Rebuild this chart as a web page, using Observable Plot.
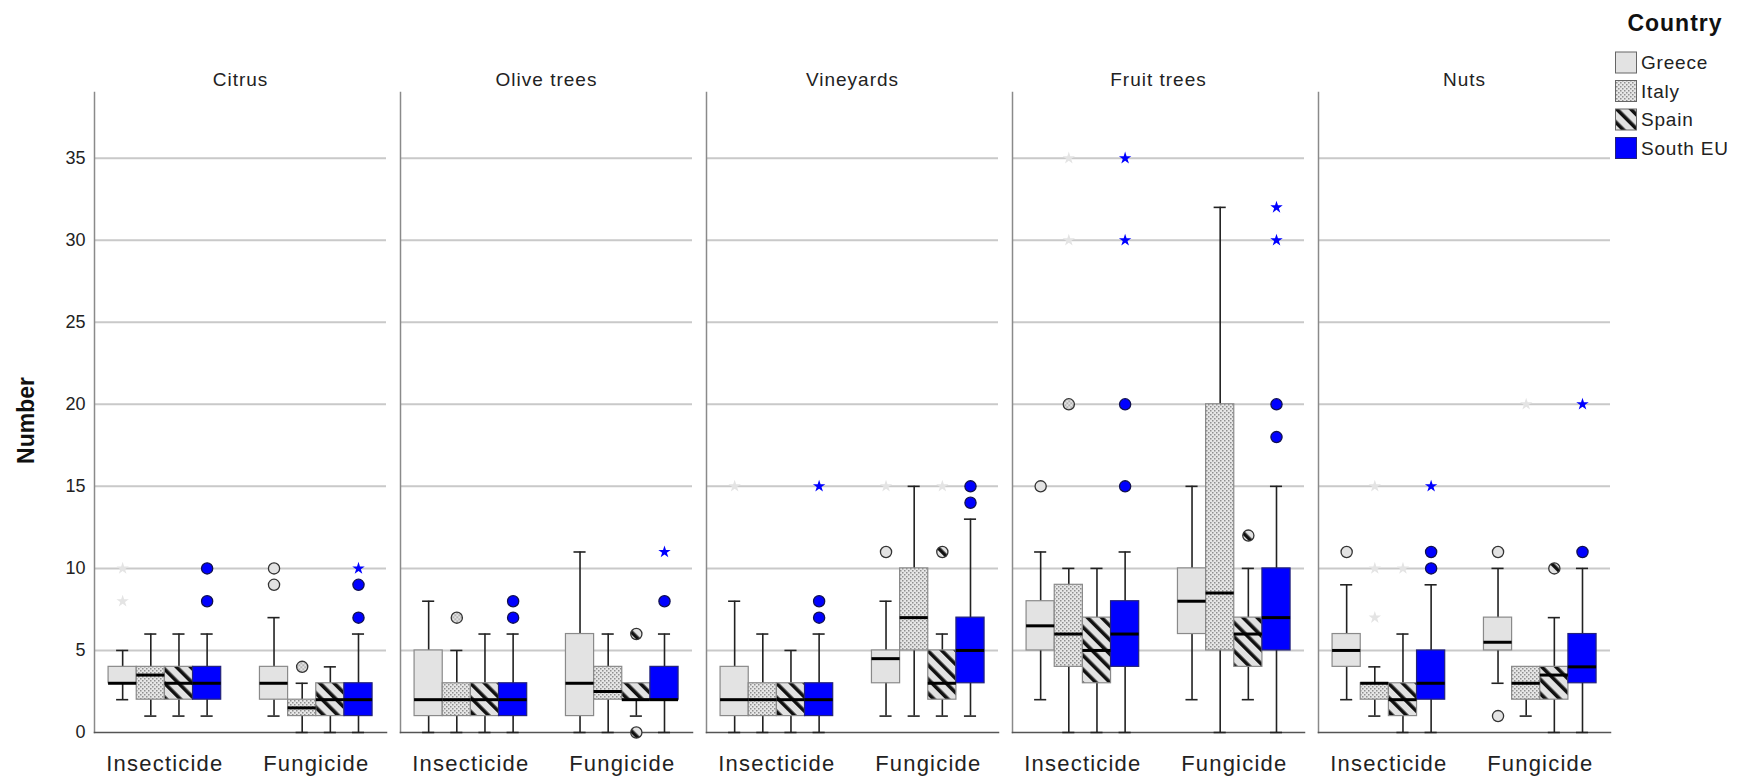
<!DOCTYPE html>
<html><head><meta charset="utf-8">
<script src="https://cdn.jsdelivr.net/npm/d3@7"></script>
<script src="https://cdn.jsdelivr.net/npm/@observablehq/plot@0.6"></script>
<style>
html,body{margin:0;padding:0;background:#fff;}
#wrap{position:relative;width:1744px;height:776px;font-family:"Liberation Sans",Arial,sans-serif;overflow:hidden;}
#legend{position:absolute;left:1590px;top:0;}
</style></head><body>
<svg width="0" height="0" style="position:absolute;left:0;top:0">
  <defs>
    <pattern id="pat-italy" width="4" height="4" patternUnits="userSpaceOnUse">
      <rect width="4" height="4" fill="#e6e6e6"/>
      <rect x="0" y="0" width="1.5" height="1.5" fill="#8f8f8f"/>
      <rect x="2" y="2" width="1.5" height="1.5" fill="#8f8f8f"/>
    </pattern>
    <pattern id="pat-spain" width="10" height="10" patternUnits="userSpaceOnUse" patternTransform="rotate(-45)">
      <rect width="10" height="10" fill="#e2e2e2"/>
      <rect width="3.6" height="10" fill="#111"/>
    </pattern>
  </defs>
</svg>
<div id="wrap"><div id="chart"></div><svg id="legend" width="154" height="170"></svg></div>
<script>
const crops = ["Citrus", "Olive trees", "Vineyards", "Fruit trees", "Nuts"];
const treatments = ["Insecticide", "Fungicide"];
const countries = ["Greece", "Italy", "Spain", "South EU"];

// Per crop: Insecticide (Greece, Italy, Spain, South EU), then Fungicide (Greece, Italy, Spain, South EU)
const whiskerLow = [
  [2, 1, 1, 1,   1, 0, 0, 0],
  [0, 0, 0, 0,   0, 0, 1, 0],
  [0, 0, 0, 0,   1, 1, 1, 1],
  [2, 0, 0, 0,   2, 0, 2, 0],
  [2, 1, 0, 0,   3, 1, 0, 0]
];
const quartile1 = [
  [3, 2, 2, 2,   2, 1, 1, 1],
  [1, 1, 1, 1,   1, 2, 2, 2],
  [1, 1, 1, 1,   3, 5, 2, 3],
  [5, 4, 3, 4,   6, 5, 4, 5],
  [4, 2, 1, 2,   5, 2, 2, 3]
];
const medians = [
  [3, 3.5, 3, 3,   3, 1.5, 2, 2],
  [2, 2, 2, 2,     3, 2.5, 2, 2],
  [2, 2, 2, 2,     4.5, 7, 3, 5],
  [6.5, 6, 5, 6,   8, 8.5, 6, 7],
  [5, 3, 2, 3,     5.5, 3, 3.5, 4]
];
const quartile3 = [
  [4, 4, 4, 4,   4, 2, 3, 3],
  [5, 3, 3, 3,   6, 4, 3, 4],
  [4, 3, 3, 3,   5, 10, 5, 7],
  [8, 9, 7, 8,   10, 20, 7, 10],
  [6, 3, 3, 5,   7, 4, 4, 6]
];
const whiskerHigh = [
  [5, 6, 6, 6,     7, 3, 4, 6],
  [8, 5, 6, 6,     11, 6, 3, 6],
  [8, 6, 5, 6,     8, 15, 6, 13],
  [11, 10, 10, 11, 15, 32, 10, 15],
  [9, 4, 6, 9,     10, 4, 7, 10]
];
// outliers (circles): [crop, treatment, country, value]
const outliers = [
  ["Citrus", "Insecticide", "South EU", 10], ["Citrus", "Insecticide", "South EU", 8],
  ["Citrus", "Fungicide", "Greece", 10], ["Citrus", "Fungicide", "Greece", 9],
  ["Citrus", "Fungicide", "Italy", 4],
  ["Citrus", "Fungicide", "South EU", 9], ["Citrus", "Fungicide", "South EU", 7],
  ["Olive trees", "Insecticide", "Italy", 7],
  ["Olive trees", "Insecticide", "South EU", 8], ["Olive trees", "Insecticide", "South EU", 7],
  ["Olive trees", "Fungicide", "Spain", 6], ["Olive trees", "Fungicide", "Spain", 0],
  ["Olive trees", "Fungicide", "South EU", 8],
  ["Vineyards", "Insecticide", "South EU", 8], ["Vineyards", "Insecticide", "South EU", 7],
  ["Vineyards", "Fungicide", "Greece", 11], ["Vineyards", "Fungicide", "Spain", 11],
  ["Vineyards", "Fungicide", "South EU", 15], ["Vineyards", "Fungicide", "South EU", 14],
  ["Fruit trees", "Insecticide", "Greece", 15], ["Fruit trees", "Insecticide", "Italy", 20],
  ["Fruit trees", "Insecticide", "South EU", 20], ["Fruit trees", "Insecticide", "South EU", 15],
  ["Fruit trees", "Fungicide", "Spain", 12],
  ["Fruit trees", "Fungicide", "South EU", 20], ["Fruit trees", "Fungicide", "South EU", 18],
  ["Nuts", "Insecticide", "Greece", 11],
  ["Nuts", "Insecticide", "South EU", 11], ["Nuts", "Insecticide", "South EU", 10],
  ["Nuts", "Fungicide", "Greece", 11], ["Nuts", "Fungicide", "Greece", 1],
  ["Nuts", "Fungicide", "Spain", 10], ["Nuts", "Fungicide", "South EU", 11]
];
// extreme values (stars): [crop, treatment, country, value]
const extremes = [
  ["Citrus", "Insecticide", "Greece", 10], ["Citrus", "Insecticide", "Greece", 8],
  ["Citrus", "Fungicide", "South EU", 10],
  ["Olive trees", "Fungicide", "South EU", 11],
  ["Vineyards", "Insecticide", "Greece", 15], ["Vineyards", "Insecticide", "South EU", 15],
  ["Vineyards", "Fungicide", "Greece", 15], ["Vineyards", "Fungicide", "Spain", 15],
  ["Fruit trees", "Insecticide", "Italy", 35], ["Fruit trees", "Insecticide", "Italy", 30],
  ["Fruit trees", "Insecticide", "South EU", 35], ["Fruit trees", "Insecticide", "South EU", 30],
  ["Fruit trees", "Fungicide", "South EU", 32], ["Fruit trees", "Fungicide", "South EU", 30],
  ["Nuts", "Insecticide", "Italy", 15], ["Nuts", "Insecticide", "Italy", 10], ["Nuts", "Insecticide", "Italy", 7],
  ["Nuts", "Insecticide", "Spain", 10], ["Nuts", "Insecticide", "South EU", 15],
  ["Nuts", "Fungicide", "Italy", 20], ["Nuts", "Fungicide", "South EU", 20]
];
const yTicks = [0, 5, 10, 15, 20, 25, 30, 35];

// ---- styles ----
const boxFill = {"Greece": "#e3e3e3", "Italy": "url(#pat-italy)", "Spain": "url(#pat-spain)", "South EU": "#0000ff"};
const boxStroke = {"Greece": "#8a8a8a", "Italy": "#8a8a8a", "Spain": "#8a8a8a", "South EU": "#23237a"};
const dotFill = {"Greece": "#e3e3e3", "Italy": "url(#pat-italy)", "Spain": "url(#pat-spain)", "South EU": "#0000ff"};
const dotStroke = {"Greece": "#333", "Italy": "#333", "Spain": "#333", "South EU": "#101050"};
const starFill = {"Greece": "#e4e4e4", "Italy": "#e4e4e4", "Spain": "#e4e4e4", "South EU": "#0000ff"};

// ---- tables ----
const rows = [];
crops.forEach((crop, ci) => treatments.forEach((treatment, ti) => countries.forEach((country, k) => {
  const j = ti * 4 + k;
  rows.push({crop, treatment, country,
    lo: whiskerLow[ci][j], q1: quartile1[ci][j], med: medians[ci][j],
    q3: quartile3[ci][j], hi: whiskerHigh[ci][j]});
})));
const toObj = ([crop, treatment, country, value]) => ({crop, treatment, country, value});
const outlierRows = outliers.map(toObj);
const extremeRows = extremes.map(toObj);

const BW = 0.186;   // box width in x units
const CAP = 0.08;   // whisker cap width
const pos = d => treatments.indexOf(d.treatment) + (countries.indexOf(d.country) - 1.5) * BW;

const marks = [
  Plot.ruleY(yTicks.filter(v => v > 0), {stroke: "#c9c9c9", strokeWidth: 2}),
  Plot.frame({anchor: "left", stroke: "#8a8a8a", strokeWidth: 1.5}),
  Plot.frame({anchor: "bottom", stroke: "#555", strokeWidth: 1.5}),
  Plot.axisY({ticks: yTicks, tickSize: 0, tickPadding: 9, fontSize: 18, label: "Number",
    labelAnchor: "center", labelArrow: "none", labelOffset: 77}),
  Plot.axisX({ticks: [0, 1], tickFormat: i => treatments[i], tickSize: 0, tickPadding: 23, fontSize: 22, label: null}),
  Plot.text(crops, {fx: d => d, text: d => d, frameAnchor: "top", dy: -20, fontSize: 19}),
  Plot.ruleX(rows, {fx: "crop", x: pos, y1: "lo", y2: "hi", stroke: "#222", strokeWidth: 1.6}),
  Plot.ruleY(rows.filter(d => d.lo < d.q1), {fx: "crop", y: "lo", x1: d => pos(d) - CAP / 2, x2: d => pos(d) + CAP / 2, stroke: "#222", strokeWidth: 1.6}),
  Plot.ruleY(rows.filter(d => d.hi > d.q3), {fx: "crop", y: "hi", x1: d => pos(d) - CAP / 2, x2: d => pos(d) + CAP / 2, stroke: "#222", strokeWidth: 1.6}),
  ...countries.map(c => Plot.rect(rows.filter(d => d.country === c), {
    fx: "crop", x1: d => pos(d) - BW / 2, x2: d => pos(d) + BW / 2, y1: "q1", y2: "q3",
    fill: boxFill[c], stroke: boxStroke[c], strokeWidth: 1.2})),
  Plot.ruleY(rows, {fx: "crop", y: "med", x1: d => pos(d) - BW / 2, x2: d => pos(d) + BW / 2, stroke: "#000", strokeWidth: 3}),
  ...countries.map(c => Plot.dot(extremeRows.filter(d => d.country === c), {
    fx: "crop", x: pos, y: "value", symbol: "star", r: 3.9, fill: starFill[c], stroke: "none"})),
  ...countries.map(c => Plot.dot(outlierRows.filter(d => d.country === c), {
    fx: "crop", x: pos, y: "value", r: 5.6, fill: dotFill[c], stroke: dotStroke[c], strokeWidth: 1.3}))
];

const chart = Plot.plot({
  width: 1744, height: 776,
  marginLeft: 92, marginRight: 133, marginTop: 92, marginBottom: 44,
  style: {fontFamily: '"Liberation Sans", Arial, sans-serif', color: "#222", background: "#fff"},
  fx: {domain: crops, paddingInner: 0.0473, paddingOuter: 0, axis: null},
  x: {domain: [-0.465, 1.464]},
  y: {domain: [0, 39]},
  marks
});
document.getElementById("chart").appendChild(chart);

// typographic touches
chart.querySelectorAll('[aria-label="x-axis tick label"] text').forEach(t => t.setAttribute("letter-spacing", "1.2"));
chart.querySelectorAll('[aria-label="y-axis label"] text').forEach(t => {
  t.setAttribute("font-weight", "bold"); t.setAttribute("font-size", "23"); t.setAttribute("fill", "#111");
  t.setAttribute("dx", "-8");
});
chart.querySelectorAll('[aria-label="text"] text').forEach(t => t.setAttribute("letter-spacing", "1"));

// ---- legend ----
const leg = d3.select("#legend");
const L0 = 1590;
leg.append("text").attr("x", 1675 - L0).attr("y", 31).attr("text-anchor", "middle")
  .attr("font-size", 23).attr("font-weight", "bold").attr("letter-spacing", 1).attr("fill", "#111")
  .attr("font-family", '"Liberation Sans", Arial, sans-serif').text("Country");
countries.forEach((c, i) => {
  const y = 52 + i * 28.5;
  leg.append("rect").attr("x", 1615.5 - L0).attr("y", y).attr("width", 21).attr("height", 21)
    .attr("fill", boxFill[c]).attr("stroke", c === "South EU" ? "#23237a" : "#666").attr("stroke-width", 1);
  leg.append("text").attr("x", 1641 - L0).attr("y", y + 10.5).attr("dy", "0.35em")
    .attr("font-size", 19).attr("letter-spacing", 0.8).attr("fill", "#222")
    .attr("font-family", '"Liberation Sans", Arial, sans-serif').text(c);
});
</script>
</body></html>
